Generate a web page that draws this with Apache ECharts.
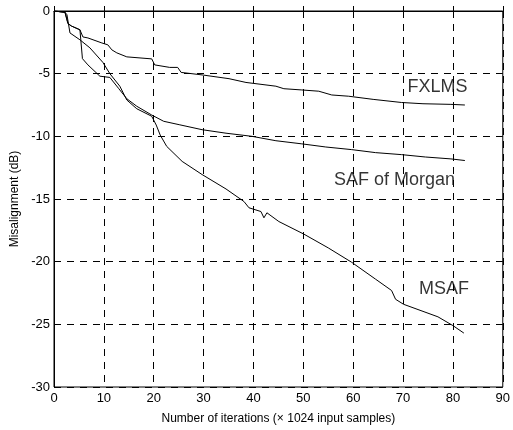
<!DOCTYPE html>
<html>
<head>
<meta charset="utf-8">
<script src="https://cdn.jsdelivr.net/npm/echarts@6/dist/echarts.min.js"></script>
<style>html,body{margin:0;padding:0;background:#fff}#c{width:513px;height:430px}</style>
</head>
<body>
<div id="c"></div>
<script>
var xTicks = [0, 10, 20, 30, 40, 50, 60, 70, 80, 90];
var yTicks = [-30, -25, -20, -15, -10, -5, 0];

var fxlms = [[0,0],[2.2,-0.1],[2.8,-1.0],[3.5,-1.2],[5.2,-1.5],[5.8,-2.07],[6.8,-2.15],[9.6,-2.55],[10.8,-2.7],[11.6,-3.1],[12.6,-3.34],[14.6,-3.66],[19.6,-3.82],[20.2,-4.3],[23.2,-4.5],[24.8,-4.5],[25.5,-4.9],[29.7,-5.1],[35.1,-5.4],[38.5,-5.7],[44.5,-6.0],[46.1,-6.2],[49.7,-6.3],[53.1,-6.4],[55.7,-6.7],[59.1,-6.8],[64,-7.05],[69.7,-7.3],[74,-7.4],[79.6,-7.45],[82.4,-7.5]];

var safMorgan = [[0,0],[2.2,-0.1],[2.8,-1.0],[3.5,-1.2],[5.2,-1.5],[5.6,-1.6],[5.7,-3.8],[6.8,-4.3],[9.2,-5.2],[11.2,-5.3],[13,-6.2],[14.6,-7.0],[16.6,-7.6],[19.6,-8.3],[22,-8.8],[25.1,-9.07],[29.7,-9.47],[34.5,-9.75],[39.7,-10.0],[44.5,-10.35],[49.7,-10.6],[54.5,-10.85],[59.7,-11.06],[64.5,-11.3],[69.7,-11.46],[74.5,-11.65],[79.6,-11.8],[82.4,-11.93]];

var msaf = [[0,0],[2.2,-0.1],[2.6,-0.3],[3.2,-1.75],[5.2,-2.3],[7.2,-2.94],[9.8,-4.1],[11.2,-5.0],[13.2,-6.0],[14.6,-7.1],[16.6,-7.8],[19.6,-8.4],[20.5,-9.1],[21.3,-9.9],[22.6,-10.8],[25.7,-12.0],[29.7,-13.05],[34.5,-14.2],[38.1,-15.2],[39.1,-15.7],[41.5,-16.0],[42.1,-16.5],[42.7,-16.1],[45.1,-16.8],[50.1,-17.8],[55,-18.9],[59.7,-20.05],[64.5,-21.4],[67.7,-22.3],[68.5,-23.0],[70.1,-23.4],[77.0,-24.4],[80.0,-25.1],[82.2,-25.7]];

var labelNames = ['FXLMS', 'SAF of Morgan', 'MSAF'];
var labelPos = [[76.9, -6.1], [68.3, -13.45], [78.2, -22.2]];

var chart = echarts.init(document.getElementById('c'), null, {renderer: 'canvas'});
var font = 'Liberation Sans, Arial, sans-serif';
function lineSeries(name, data) {
  return {
    name: name, type: 'line', data: data, showSymbol: false, symbol: 'none',
    lineStyle: {color: '#000', width: 1}, animation: false, z: 3
  };
}
chart.setOption({
  animation: false,
  backgroundColor: '#fff',
  grid: {left: 54, right: 8, top: 11, bottom: 42, show: true, borderColor: '#000', borderWidth: 1},
  xAxis: {
    type: 'value', min: 0, max: 90, interval: 10,
    name: 'Number of iterations (\u00d7 1024 input samples)',
    nameLocation: 'middle', nameGap: 26,
    nameTextStyle: {color: '#000', fontSize: 12, fontFamily: font},
    axisLine: {lineStyle: {color: '#000', width: 1}},
    axisTick: {inside: true, length: 5, lineStyle: {color: '#000'}},
    axisLabel: {color: '#000', fontSize: 13, fontFamily: font, margin: 5,
      formatter: function (v) { return xTicks.indexOf(v) >= 0 ? String(v) : ''; }},
    splitLine: {show: true, lineStyle: {color: '#000', type: [7, 6], width: 1}}
  },
  yAxis: {
    type: 'value', min: -30, max: 0, interval: 5,
    name: 'Misalignment (dB)',
    nameLocation: 'middle', nameGap: 27, nameRotate: 90,
    nameTextStyle: {color: '#000', fontSize: 12, fontFamily: font},
    axisLine: {show: true, lineStyle: {color: '#000', width: 1}},
    axisTick: {show: true, inside: true, length: 5, lineStyle: {color: '#000'}},
    axisLabel: {color: '#000', fontSize: 13, fontFamily: font, margin: 4,
      formatter: function (v) { return yTicks.indexOf(v) >= 0 ? String(v) : ''; }},
    splitLine: {show: true, lineStyle: {color: '#000', type: [7, 6], width: 1}}
  },
  series: [
    lineSeries('FXLMS', fxlms),
    lineSeries('SAF of Morgan', safMorgan),
    lineSeries('MSAF', msaf),
    {
      type: 'scatter', symbolSize: 0, silent: true, z: 4,
      data: labelPos.map(function (p, i) { return {value: p, name: labelNames[i]}; }),
      label: {show: true, position: 'inside', formatter: function (p) { return p.name; },
        color: '#000', fontSize: 18, fontFamily: font}
    }
  ]
});
</script>
</body>
</html>
